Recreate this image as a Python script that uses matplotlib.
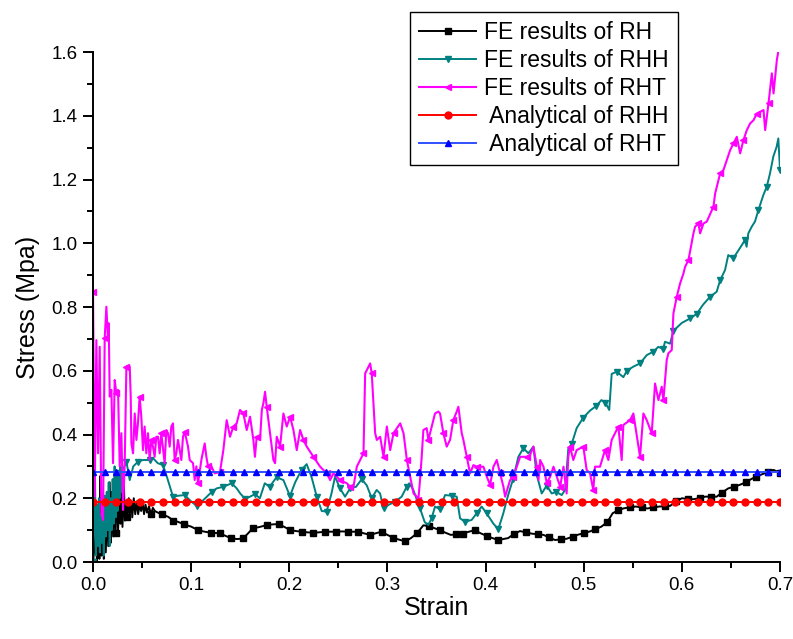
import numpy as np
import matplotlib
matplotlib.use("Agg")
import matplotlib.pyplot as plt

plt.rcParams['font.family'] = ['Liberation Sans', 'DejaVu Sans']

# FE results of RH (black)
rh_strain = [0.000, 0.0017, 0.003, 0.004, 0.005, 0.0065, 0.0075, 0.0085, 0.010, 0.011,
             0.012, 0.013, 0.0145, 0.0155, 0.017, 0.018, 0.019, 0.0205, 0.022, 0.023,
             0.0245, 0.0255, 0.027, 0.028, 0.029, 0.030, 0.0315, 0.0325, 0.034, 0.035,
             0.0365, 0.0375, 0.039, 0.040, 0.0415, 0.043, 0.0445, 0.046, 0.0475, 0.049,
             0.0505, 0.052, 0.0535, 0.055, 0.057, 0.059, 0.061, 0.063, 0.066, 0.070,
             0.0764, 0.082, 0.0866, 0.093, 0.100, 0.107, 0.1138, 0.120, 0.129, 0.135,
             0.141, 0.147, 0.153, 0.158, 0.163, 0.170, 0.177, 0.183, 0.189, 0.195,
             0.201, 0.207, 0.2126, 0.2185, 0.2245, 0.230, 0.2364, 0.242, 0.248, 0.254,
             0.260, 0.265, 0.270, 0.276, 0.282, 0.288, 0.294, 0.300, 0.306, 0.312,
             0.318, 0.324, 0.330, 0.3366, 0.342, 0.348, 0.3536, 0.359, 0.3646, 0.370,
             0.3766, 0.383, 0.389, 0.395, 0.401, 0.407, 0.413, 0.418, 0.423, 0.429,
             0.435, 0.441, 0.447, 0.453, 0.459, 0.465, 0.4707, 0.477, 0.4827, 0.489,
             0.4945, 0.500, 0.5064, 0.512, 0.518, 0.524, 0.5295, 0.535, 0.5404, 0.547,
             0.5533, 0.559, 0.5648, 0.571, 0.577, 0.583, 0.588, 0.594, 0.600, 0.606,
             0.6117, 0.618, 0.6236, 0.630, 0.6355, 0.641, 0.6473, 0.653, 0.659, 0.665,
             0.670, 0.676, 0.6824, 0.688, 0.6932, 0.697, 0.700]
rh_stress = [0.0, 0.05, 0.12, 0.0, 0.09, 0.01, 0.27, 0.02, 0.12, 0.01,
             0.16, 0.03, 0.20, 0.05, 0.25, 0.06, 0.22, 0.08, 0.21, 0.09,
             0.25, 0.10, 0.20, 0.12, 0.22, 0.11, 0.24, 0.13, 0.19, 0.14,
             0.20, 0.15, 0.19, 0.14, 0.20, 0.15, 0.19, 0.15, 0.18, 0.16,
             0.185, 0.15, 0.18, 0.155, 0.175, 0.15, 0.17, 0.16, 0.155, 0.15,
             0.142, 0.13, 0.126, 0.118, 0.111, 0.100, 0.095, 0.092, 0.090, 0.082,
             0.074, 0.072, 0.074, 0.090, 0.106, 0.110, 0.116, 0.118, 0.119, 0.110,
             0.100, 0.097, 0.095, 0.093, 0.092, 0.093, 0.095, 0.095, 0.095, 0.096,
             0.095, 0.095, 0.095, 0.090, 0.085, 0.090, 0.095, 0.085, 0.076, 0.070,
             0.065, 0.075, 0.090, 0.115, 0.113, 0.106, 0.100, 0.092, 0.085, 0.087,
             0.089, 0.095, 0.100, 0.090, 0.082, 0.075, 0.069, 0.072, 0.075, 0.088,
             0.097, 0.093, 0.089, 0.087, 0.085, 0.077, 0.069, 0.071, 0.073, 0.080,
             0.086, 0.090, 0.096, 0.103, 0.111, 0.125, 0.153, 0.162, 0.168, 0.172,
             0.174, 0.171, 0.168, 0.171, 0.174, 0.175, 0.176, 0.190, 0.200, 0.198,
             0.197, 0.200, 0.205, 0.205, 0.205, 0.218, 0.231, 0.236, 0.242, 0.250,
             0.259, 0.268, 0.276, 0.283, 0.289, 0.284, 0.278]

# FE results of RHH (teal)
rhh_strain = [0.000, 0.001, 0.002, 0.003, 0.004, 0.005, 0.006, 0.007, 0.008, 0.009,
              0.010, 0.011, 0.012, 0.013, 0.014, 0.015, 0.016, 0.017, 0.018, 0.019,
              0.020, 0.021, 0.022, 0.023, 0.024, 0.025, 0.026, 0.027, 0.028, 0.029,
              0.030, 0.032, 0.034, 0.0374, 0.041, 0.0459, 0.051, 0.0577, 0.061, 0.066,
              0.0713, 0.076, 0.0815, 0.087, 0.0934, 0.100, 0.1057, 0.111, 0.116, 0.121,
              0.126, 0.1328, 0.1413, 0.1464, 0.150, 0.155, 0.160, 0.165, 0.170, 0.175,
              0.180, 0.187, 0.194, 0.2007, 0.206, 0.2126, 0.2177, 0.2228, 0.228, 0.233,
              0.238, 0.243, 0.2466, 0.2517, 0.2568, 0.262, 0.268, 0.2738, 0.279, 0.284,
              0.289, 0.2925, 0.296, 0.301, 0.3077, 0.3145, 0.3196, 0.3223, 0.3264, 0.333,
              0.338, 0.3417, 0.345, 0.3485, 0.3536, 0.3587, 0.3655, 0.3706, 0.374, 0.379,
              0.3858, 0.391, 0.396, 0.401, 0.408, 0.413, 0.418, 0.423, 0.428, 0.4334,
              0.4385, 0.4436, 0.4487, 0.452, 0.4572, 0.4623, 0.4674, 0.472, 0.4776, 0.481,
              0.4843, 0.4877, 0.4928, 0.4996, 0.5064, 0.513, 0.518, 0.522, 0.526, 0.5285,
              0.5336, 0.5404, 0.544, 0.5506, 0.5574, 0.5642, 0.571, 0.576, 0.581, 0.5828,
              0.588, 0.5913, 0.5999, 0.6083, 0.615, 0.6218, 0.6287, 0.6355, 0.639, 0.644,
              0.6473, 0.6524, 0.659, 0.6643, 0.666, 0.6677, 0.6712, 0.6745, 0.678, 0.683,
              0.6865, 0.6898, 0.6932, 0.6966, 0.6983, 0.700]
rhh_stress = [0.0, 0.15, 0.27, 0.02, 0.18, 0.05, 0.20, 0.03, 0.15, 0.06,
              0.13, 0.02, 0.20, 0.08, 0.22, 0.10, 0.25, 0.05, 0.20, 0.10,
              0.26, 0.12, 0.30, 0.14, 0.28, 0.16, 0.27, 0.20, 0.30, 0.22,
              0.29, 0.30, 0.315, 0.257, 0.30, 0.315, 0.32, 0.32, 0.326, 0.31,
              0.304, 0.26, 0.205, 0.208, 0.21, 0.19, 0.176, 0.19, 0.205, 0.22,
              0.231, 0.236, 0.247, 0.231, 0.215, 0.198, 0.205, 0.213, 0.20, 0.247,
              0.236, 0.266, 0.257, 0.207, 0.25, 0.29, 0.307, 0.265, 0.205, 0.16,
              0.158, 0.215, 0.268, 0.231, 0.205, 0.231, 0.236, 0.26, 0.24, 0.20,
              0.226, 0.215, 0.168, 0.179, 0.189, 0.205, 0.236, 0.247, 0.226, 0.17,
              0.125, 0.116, 0.137, 0.174, 0.165, 0.21, 0.208, 0.205, 0.137, 0.126,
              0.132, 0.153, 0.174, 0.153, 0.12, 0.103, 0.152, 0.21, 0.26, 0.33,
              0.357, 0.341, 0.362, 0.275, 0.215, 0.24, 0.215, 0.22, 0.21, 0.226,
              0.355, 0.37, 0.42, 0.453, 0.475, 0.49, 0.508, 0.50, 0.477, 0.59,
              0.597, 0.58, 0.60, 0.613, 0.623, 0.649, 0.66, 0.675, 0.668, 0.691,
              0.685, 0.725, 0.75, 0.764, 0.778, 0.808, 0.832, 0.848, 0.884, 0.916,
              0.963, 0.953, 0.984, 1.01, 0.989, 1.031, 1.052, 1.068, 1.104, 1.151,
              1.177, 1.219, 1.272, 1.303, 1.329, 1.23]

# FE results of RHT (magenta)
rht_strain = [0.000, 0.0017, 0.0034, 0.0051, 0.0068, 0.0085, 0.0102, 0.0119, 0.0136, 0.0153,
              0.016, 0.017, 0.0187, 0.0204, 0.0221, 0.0238, 0.0255, 0.0272, 0.0289, 0.0306,
              0.0323, 0.034, 0.0374, 0.0384, 0.0391, 0.0408, 0.0425, 0.0442, 0.0458, 0.0475,
              0.0492, 0.0509, 0.0526, 0.0543, 0.056, 0.0577, 0.0594, 0.0611, 0.0628, 0.0645,
              0.0662, 0.0679, 0.0696, 0.073, 0.0747, 0.0764, 0.0781, 0.0798, 0.0815, 0.0832,
              0.0849, 0.0866, 0.090, 0.0917, 0.0934, 0.0968, 0.0985, 0.1019, 0.1036, 0.1053,
              0.107, 0.1104, 0.1138, 0.1155, 0.1172, 0.1206, 0.124, 0.1294, 0.1328, 0.1362,
              0.1396, 0.143, 0.1464, 0.1498, 0.1532, 0.1566, 0.160, 0.1634, 0.165, 0.1668,
              0.1702, 0.172, 0.1736, 0.1753, 0.177, 0.1804, 0.1838, 0.1855, 0.1872, 0.1906,
              0.194, 0.1974, 0.2008, 0.2042, 0.2076, 0.211, 0.2144, 0.2178, 0.2246, 0.2314,
              0.2382, 0.2416, 0.245, 0.2518, 0.2586, 0.262, 0.2654, 0.2688, 0.2756, 0.2773,
              0.279, 0.2824, 0.284, 0.2875, 0.2892, 0.2926, 0.296, 0.2994, 0.3028, 0.3062,
              0.313, 0.3164, 0.3198, 0.3232, 0.3266, 0.3298, 0.3315, 0.3332, 0.3349, 0.3366,
              0.340, 0.3417, 0.3468, 0.3485, 0.3519, 0.3536, 0.357, 0.3604, 0.3638, 0.3672,
              0.3706, 0.3723, 0.3757, 0.3774, 0.3808, 0.3842, 0.3876, 0.391, 0.3978, 0.4012,
              0.4046, 0.408, 0.4114, 0.4148, 0.4182, 0.4199, 0.425, 0.4284, 0.4318, 0.4352,
              0.442, 0.4454, 0.4488, 0.4522, 0.4539, 0.4556, 0.459, 0.4624, 0.4658, 0.4692,
              0.476, 0.4794, 0.4826, 0.4843, 0.486, 0.4894, 0.4928, 0.4996, 0.503, 0.5064,
              0.5098, 0.5115, 0.5166, 0.5217, 0.5251, 0.5285, 0.5353, 0.5387, 0.5404, 0.5472,
              0.5506, 0.5574, 0.5608, 0.5642, 0.5693, 0.5727, 0.5761, 0.5795, 0.5812, 0.5846,
              0.5863, 0.5897, 0.5914, 0.5948, 0.5982, 0.6016, 0.6033, 0.6067, 0.6118, 0.6135,
              0.6169, 0.6186, 0.622, 0.6254, 0.6322, 0.6339, 0.639, 0.6424, 0.6458, 0.6492,
              0.6526, 0.656, 0.6594, 0.6628, 0.6662, 0.6696, 0.673, 0.6764, 0.6832, 0.6849,
              0.6866, 0.6883, 0.6917, 0.6934, 0.6968, 0.6985]
rht_stress = [0.848, 0.205, 0.696, 0.341, 0.675, 0.153, 0.132, 0.702, 0.801, 0.696,
              0.749, 0.519, 0.54, 0.31, 0.571, 0.529, 0.54, 0.30, 0.404, 0.163,
              0.31, 0.613, 0.613, 0.519, 0.372, 0.341, 0.466, 0.383, 0.435, 0.519,
              0.456, 0.351, 0.425, 0.341, 0.404, 0.32, 0.383, 0.362, 0.33, 0.393,
              0.393, 0.341, 0.404, 0.31, 0.414, 0.404, 0.362, 0.425, 0.435, 0.32,
              0.341, 0.383, 0.32, 0.393, 0.409, 0.362, 0.32, 0.31, 0.257, 0.30,
              0.247, 0.32, 0.372, 0.33, 0.30, 0.30, 0.278, 0.283, 0.351, 0.445,
              0.393, 0.425, 0.435, 0.477, 0.466, 0.414, 0.456, 0.383, 0.33, 0.393,
              0.383, 0.477, 0.498, 0.534, 0.487, 0.404, 0.32, 0.31, 0.393, 0.362,
              0.466, 0.425, 0.456, 0.414, 0.351, 0.414, 0.383, 0.362, 0.33, 0.299,
              0.278, 0.257, 0.278, 0.257, 0.247, 0.236, 0.236, 0.299, 0.341, 0.592,
              0.602, 0.623, 0.592, 0.404, 0.383, 0.393, 0.33, 0.425, 0.351, 0.404,
              0.435, 0.404, 0.32, 0.268, 0.215, 0.205, 0.195, 0.257, 0.33, 0.414,
              0.42, 0.383, 0.446, 0.466, 0.472, 0.466, 0.404, 0.362, 0.383, 0.446,
              0.472, 0.487, 0.404, 0.383, 0.33, 0.278, 0.304, 0.299, 0.299, 0.268,
              0.242, 0.299, 0.32, 0.278, 0.236, 0.205, 0.257, 0.268, 0.299, 0.33,
              0.33, 0.336, 0.362, 0.299, 0.257, 0.32, 0.299, 0.247, 0.268, 0.299,
              0.236, 0.299, 0.215, 0.331, 0.362, 0.32, 0.351, 0.362, 0.289, 0.278,
              0.226, 0.299, 0.299, 0.351, 0.32, 0.383, 0.425, 0.32, 0.43, 0.445,
              0.466, 0.33, 0.466, 0.445, 0.404, 0.56, 0.508, 0.55, 0.508, 0.634,
              0.655, 0.665, 0.78, 0.832, 0.874, 0.905, 0.926, 0.947, 1.031, 1.052,
              1.062, 1.031, 1.062, 1.068, 1.115, 1.156, 1.219, 1.23, 1.261, 1.292,
              1.313, 1.334, 1.282, 1.324, 1.355, 1.376, 1.386, 1.407, 1.418, 1.355,
              1.397, 1.439, 1.533, 1.47, 1.575, 1.606]

# analytical results (constant stress)
an_strain = np.linspace(0, 0.7, 60)
an_rhh_stress = 0.188
an_rht_stress = 0.283

labels = ['FE results of RH', 'FE results of RHH', 'FE results of RHT',
          ' Analytical of RHH', ' Analytical of RHT']


def marker_idx(xs, step=0.7 / 59):
    xs = np.asarray(xs)
    grid = np.arange(0, xs[-1] + 1e-9, step)
    return sorted(set(int(np.argmin(np.abs(xs - g))) for g in grid))


fig = plt.figure(figsize=(7.93, 6.39), dpi=100)
ax = fig.add_axes([0.1173, 0.1205, 0.8663, 0.7981])

ax.plot(rh_strain, rh_stress, color='black', lw=1.4, marker='s', ms=4,
        markevery=marker_idx(rh_strain), label=labels[0])
ax.plot(rhh_strain, rhh_stress, color='#008080', lw=1.4, marker='v', ms=5,
        markevery=marker_idx(rhh_strain), label=labels[1])
ax.plot(rht_strain, rht_stress, color='#ff00ff', lw=1.5, marker='<', ms=5,
        markevery=marker_idx(rht_strain), label=labels[2])
ax.plot(an_strain, [an_rhh_stress] * len(an_strain), color='#ff0000', lw=1.4,
        marker='o', ms=5, label=labels[3])
ax.plot(an_strain, [an_rht_stress] * len(an_strain), color='#3050ff', lw=1.4,
        marker='^', ms=5, mfc='#0000ff', mec='#0000ff', label=labels[4])

ax.set_xlim(0, 0.7)
ax.set_ylim(0, 1.6)
ax.set_xticks(np.arange(0, 0.71, 0.1))
ax.set_xticks(np.arange(0.05, 0.7, 0.1), minor=True)
ax.set_yticks(np.arange(0, 1.61, 0.2))
ax.set_yticks(np.arange(0.1, 1.6, 0.2), minor=True)
ax.xaxis.set_major_formatter(matplotlib.ticker.FormatStrFormatter('%.1f'))
ax.yaxis.set_major_formatter(matplotlib.ticker.FormatStrFormatter('%.1f'))

for s in ['top', 'right']:
    ax.spines[s].set_visible(False)
for s in ['left', 'bottom']:
    ax.spines[s].set_linewidth(1.4)
ax.tick_params(which='major', direction='out', length=7, width=1.4, labelsize=13.5, pad=4)
ax.tick_params(which='minor', direction='out', length=4, width=1.4)

ax.set_xlabel('Strain', fontsize=18, labelpad=1)
ax.set_ylabel('Stress (Mpa)', fontsize=18, labelpad=8)

leg = ax.legend(loc='upper left', bbox_to_anchor=(0.517, 0.982),
                bbox_transform=fig.transFigure, borderaxespad=0,
                fancybox=False, edgecolor='black', framealpha=1,
                fontsize=16.5, handlelength=2.5, handletextpad=0.35,
                labelspacing=0.22, borderpad=0.4)
leg.get_frame().set_linewidth(1.0)

fig.savefig('out.png', dpi=100)
